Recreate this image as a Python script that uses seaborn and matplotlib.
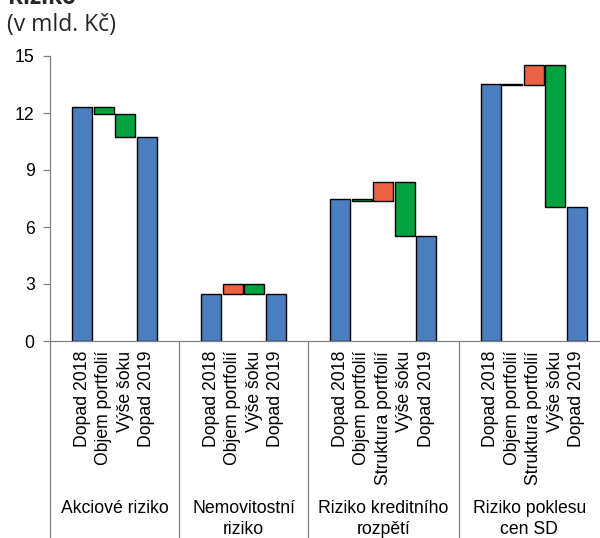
import matplotlib
matplotlib.use("Agg")
import matplotlib.pyplot as plt
import matplotlib.transforms as mtransforms
import numpy as np
import pandas as pd
import seaborn as sns

# Skupiny rizik a jejich položky rozkladu
skupiny = ["Akciové riziko", "Nemovitostní\nriziko",
           "Riziko kreditního\nrozpětí", "Riziko poklesu\ncen SD"]
polozky = [
    ["Dopad 2018", "Objem portfolií", "Výše šoku", "Dopad 2019"],
    ["Dopad 2018", "Objem portfolií", "Výše šoku", "Dopad 2019"],
    ["Dopad 2018", "Objem portfolií", "Struktura portfolií", "Výše šoku", "Dopad 2019"],
    ["Dopad 2018", "Objem portfolií", "Struktura portfolií", "Výše šoku", "Dopad 2019"],
]
# Hodnoty v mld. Kč
dopad_2018 = [12.3, 2.46, 7.45, 13.55]
zmeny = [
    [-0.35, -1.2],
    [0.54, -0.52],
    [-0.1, 1.0, -2.8],
    [-0.08, 1.07, -7.5],
]
dopad_2019 = [10.75, 2.48, 5.55, 7.04]

MODRA = "#4A7EBF"
ZELENA = "#00A33D"
CERVENA = "#EB6142"
SEDA = "#808080"
VELIKOST = 12.7

# Sestavení tabulky sloupců vodopádového grafu
radky = []
pozice = 0
hranice = [-1.5]
for g in range(len(skupiny)):
    nazvy = polozky[g]
    radky.append(dict(pos=pozice, popis=nazvy[0], spodek=0.0,
                      vyska=dopad_2018[g], barva=MODRA))
    pozice += 1
    hladina = dopad_2018[g]
    for nazev, d in zip(nazvy[1:-1], zmeny[g]):
        radky.append(dict(pos=pozice, popis=nazev, spodek=min(hladina, hladina + d),
                          vyska=abs(d), barva=CERVENA if d > 0 else ZELENA))
        hladina += d
        pozice += 1
    radky.append(dict(pos=pozice, popis=nazvy[-1], spodek=0.0,
                      vyska=dopad_2019[g], barva=MODRA))
    pozice += 1
    if g < len(skupiny) - 1:
        hranice.append(pozice + 0.5)
    pozice += 2
df = pd.DataFrame(radky).sort_values("pos").reset_index(drop=True)

sns.set_theme(style="white")
plt.rcParams["font.family"] = ["Liberation Sans", "DejaVu Sans"]

fig = plt.figure(figsize=(6, 5.38), dpi=100)
ax = fig.add_axes([50 / 600, 1 - 341 / 538, 550 / 600, 285 / 538])

sns.barplot(data=df, x="pos", y="vyska", native_scale=True, width=0.93,
            color=MODRA, saturation=1,
            bottom=df["spodek"].to_numpy(), facecolor=df["barva"].tolist(),
            edgecolor="black", linewidth=1.0, errorbar=None, ax=ax)

x_right = -1.5 + 550 / 21.5
ax.set_xlim(-1.5, x_right)
ax.set_ylim(0, 15)
ax.set_xlabel("")
ax.set_ylabel("")
ax.set_yticks([0, 3, 6, 9, 12, 15])
ax.set_xticks(df["pos"].to_numpy())
ax.set_xticklabels(df["popis"].tolist(), rotation=90, fontsize=VELIKOST, color="black")
ax.tick_params(axis="x", length=0, pad=7)
ax.tick_params(axis="y", left=True, length=5, width=0.9, color=SEDA,
               labelsize=VELIKOST, labelcolor="black", pad=6)

for s in ["top", "right"]:
    ax.spines[s].set_visible(False)
for s in ["left", "bottom"]:
    ax.spines[s].set_color(SEDA)
    ax.spines[s].set_linewidth(0.9)

# Svislé oddělovače skupin pod osou
for xs in hranice:
    ax.axvline(xs, ymin=-0.75, ymax=0, color=SEDA, lw=0.9, clip_on=False)

# Názvy skupin, řádek po řádku od účaří
hranice_vse = hranice + [x_right]
trans = mtransforms.blended_transform_factory(ax.transData, fig.transFigure)
uctari = [1 - 513 / 538, 1 - 533.5 / 538]
for g, nazev in enumerate(skupiny):
    stred = (hranice_vse[g] + hranice_vse[g + 1]) / 2
    for i, radek in enumerate(nazev.split("\n")):
        ax.text(stred, uctari[i], radek, transform=trans, ha="center",
                va="baseline", fontsize=VELIKOST, color="black", clip_on=False)

fig.text(8 / 600, 1 - 3.5 / 538, "Riziko", fontsize=16.5, fontweight="bold",
         family=["Open Sans", "DejaVu Sans"], ha="left", va="baseline")
fig.text(7 / 600, 1 - 31 / 538, "(v mld. Kč)", fontsize=16.5,
         family=["Open Sans", "DejaVu Sans"], ha="left", va="baseline")

fig.savefig("out.png", dpi=100)
